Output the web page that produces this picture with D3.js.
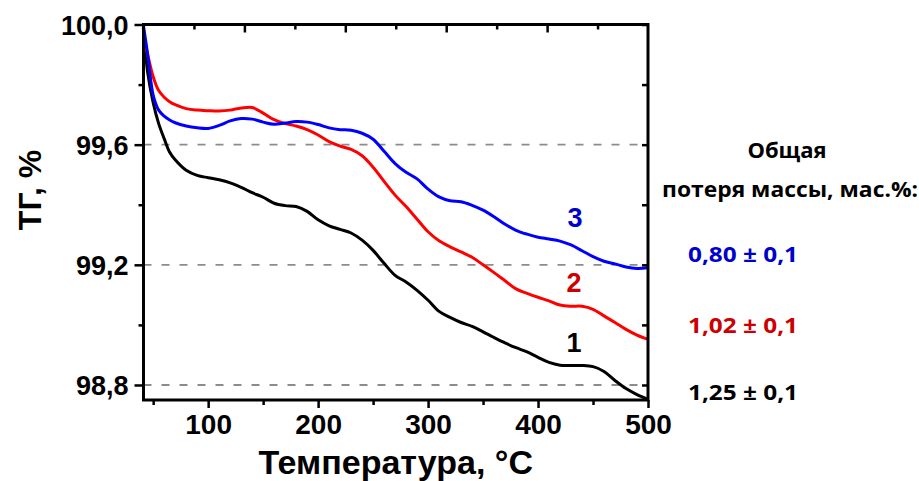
<!DOCTYPE html>
<html><head><meta charset="utf-8">
<script src="https://cdn.jsdelivr.net/npm/d3@7"></script>
<style>html,body{margin:0;padding:0;background:#fff;}svg{display:block;}</style>
</head><body>
<svg id="c" width="919" height="481"></svg>
<script>
// ---- data ----
const temperature = [41,45,50,55,60,65,70,80,90,100,110,120,130,140,150,160,170,180,190,200,210,220,230,240,250,260,270,280,290,300,310,320,330,340,350,360,370,380,390,400,410,420,430,440,450,460,470,480,490,500];
const series1 = [99.99,99.84,99.74,99.67,99.62,99.575,99.55,99.515,99.498,99.49,99.483,99.473,99.458,99.44,99.425,99.405,99.397,99.394,99.378,99.35,99.33,99.318,99.306,99.282,99.248,99.205,99.165,99.143,99.115,99.082,99.045,99.025,99.008,98.995,98.977,98.958,98.94,98.924,98.91,98.892,98.875,98.866,98.865,98.865,98.861,98.845,98.815,98.788,98.768,98.752];
const series2 = [99.965,99.9,99.826,99.78,99.758,99.743,99.733,99.72,99.715,99.713,99.712,99.715,99.722,99.724,99.705,99.683,99.67,99.662,99.65,99.632,99.61,99.595,99.584,99.563,99.525,99.478,99.432,99.394,99.352,99.31,99.28,99.26,99.243,99.225,99.2,99.174,99.147,99.12,99.105,99.092,99.08,99.066,99.062,99.062,99.052,99.03,99.008,98.985,98.966,98.952];
const series3 = [100.0,99.9,99.765,99.715,99.695,99.682,99.673,99.662,99.656,99.654,99.664,99.679,99.687,99.685,99.675,99.668,99.672,99.677,99.675,99.667,99.656,99.65,99.648,99.638,99.618,99.578,99.537,99.508,99.486,99.452,99.426,99.413,99.41,99.398,99.382,99.36,99.335,99.315,99.302,99.292,99.286,99.279,99.266,99.247,99.227,99.212,99.203,99.193,99.188,99.19];
const seriesNames = ["1","2","3"];
const lossLabels = ["1,25 ± 0,1","1,02 ± 0,1","0,80 ± 0,1"];
const xMajorTicks = [100,200,300,400,500];
const xMinorTicks = [50,150,250,350,450];
const yMajorTicks = [98.8,99.2,99.6,100.0];
const yMinorTicks = [99.0,99.4,99.8];
const gridValues = [98.8,99.2,99.6];
const noteLines = ["Общая","потеря массы, мас.%:"];

// ---- layout ----
const svg = d3.select("#c");
const L = 143.5, R = 648, T = 24.5, B = 400;
const x = d3.scaleLinear().domain([41.2, 500]).range([L, R]);
const y = d3.scaleLinear().domain([98.75, 100.0]).range([B, T]);
const xTop = d3.scaleLinear().domain([0, 10]).range([L, R]);
const lineColors = ["#000000", "#ff0000", "#0000ff"];
const textColors = ["#000000", "#cc0000", "#0000cc"];
const fontA = "'Liberation Sans', Arial, sans-serif";
const fontB = "'Open Sans', 'Noto Sans', sans-serif";

// grid
svg.append("g").selectAll("line").data(gridValues).join("line")
  .attr("x1", L).attr("x2", R - 6).attr("y1", d => y(d)).attr("y2", d => y(d))
  .attr("stroke", "#8c8c8c").attr("stroke-width", 1.8).attr("stroke-dasharray", "8,10");

// curves
const line = d3.line().x((d, i) => x(temperature[i])).y(d => y(d)).curve(d3.curveCatmullRom.alpha(0.5));
[series1, series2, series3].forEach((s, k) => {
  svg.append("path").datum(s).attr("d", line).attr("fill", "none")
    .attr("stroke", lineColors[k]).attr("stroke-width", 3).attr("stroke-linejoin", "round");
});

// axes
const gL = svg.append("g").attr("transform", `translate(${L},0)`)
  .call(d3.axisLeft(y).tickValues(yMajorTicks).tickSize(9).tickPadding(6).tickFormat(d => d3.format(".1f")(d).replace(".", ",")));
gL.selectAll("text").attr("font-family", fontA).attr("font-weight", "bold").attr("font-size", 27).attr("fill", "#000").attr("dy", "0.36em");
svg.append("g").attr("transform", `translate(${L},0)`).call(d3.axisLeft(y).tickValues(yMinorTicks).tickSize(5).tickFormat(""));

const gB = svg.append("g").attr("transform", `translate(0,${B})`)
  .call(d3.axisBottom(x).tickValues(xMajorTicks).tickSize(8).tickPadding(6).tickFormat(d3.format("d")));
gB.selectAll("text").attr("font-family", fontA).attr("font-weight", "bold").attr("font-size", 28).attr("fill", "#000").attr("dy", "0.73em");
svg.append("g").attr("transform", `translate(0,${B})`).call(d3.axisBottom(x).tickValues(xMinorTicks).tickSize(5).tickFormat(""));

svg.append("g").attr("transform", `translate(0,${T})`).call(d3.axisBottom(xTop).tickValues([2,4,6,8]).tickSize(8).tickFormat(""));
svg.append("g").attr("transform", `translate(0,${T})`).call(d3.axisBottom(xTop).tickValues([1,3,5,7,9]).tickSize(5).tickFormat(""));
svg.append("g").attr("transform", `translate(${R},0)`).call(d3.axisLeft(y).tickValues(yMajorTicks.concat(yMinorTicks)).tickSize(6).tickFormat(""));

svg.selectAll(".domain").remove();
svg.selectAll(".tick line").attr("stroke", "#000").attr("stroke-width", 2.5);

// frame
svg.append("path").attr("d", `M${L},${T}H${R}V${B}H${L}Z`).attr("fill", "none")
  .attr("stroke", "#000").attr("stroke-width", 3).attr("stroke-linejoin", "miter");

// axis titles
svg.append("text").attr("x", (L + R) / 2).attr("y", 474).attr("text-anchor", "middle")
  .attr("font-family", fontA).attr("font-weight", "bold").attr("font-size", 34).text("Температура, °C");
svg.append("text").attr("transform", "translate(41,190) rotate(-90)").attr("text-anchor", "middle")
  .attr("font-family", fontA).attr("font-weight", "bold").attr("font-size", 32).text("ТГ, %");

// curve labels
const labelXY = [[574, 352], [574, 292], [575, 227]];
seriesNames.forEach((n, k) => {
  svg.append("text").attr("x", labelXY[k][0]).attr("y", labelXY[k][1]).attr("text-anchor", "middle")
    .attr("font-family", fontA).attr("font-weight", "bold").attr("font-size", 27).attr("fill", textColors[k]).text(n);
});

// note
svg.append("text").attr("x", 787).attr("y", 158).attr("text-anchor", "middle")
  .attr("font-family", fontB).attr("font-weight", "bold").attr("font-size", 22).text(noteLines[0]);
svg.append("text").attr("x", 790).attr("y", 197).attr("text-anchor", "middle")
  .attr("font-family", fontB).attr("font-weight", "bold").attr("font-size", 22)
  .attr("textLength", 256).attr("lengthAdjust", "spacingAndGlyphs").text(noteLines[1]);
const lossY = [400, 333, 262];
lossLabels.forEach((t, k) => {
  svg.append("text").attr("x", 688).attr("y", lossY[k])
    .attr("font-family", fontB).attr("font-weight", "bold").attr("font-size", 22)
    .attr("textLength", 110).attr("lengthAdjust", "spacingAndGlyphs")
    .attr("fill", textColors[k]).text(t);
});
</script>
</body></html>
